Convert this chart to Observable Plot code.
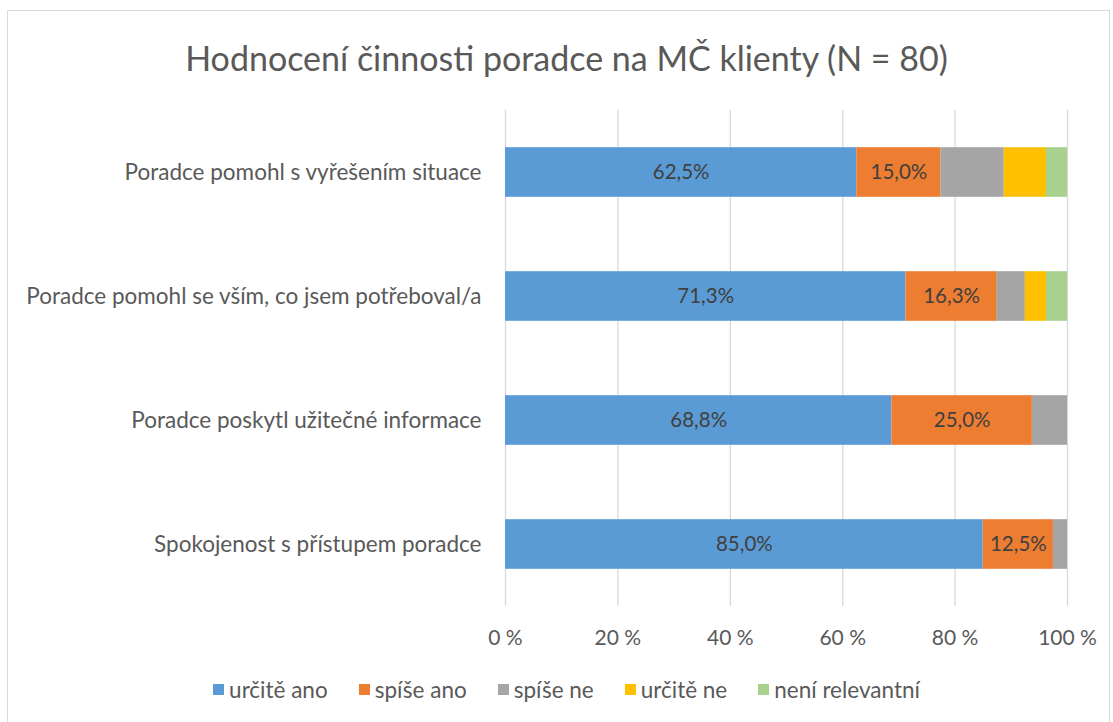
<!DOCTYPE html>
<html>
<head>
<meta charset="utf-8">
<script src="https://cdn.jsdelivr.net/npm/d3@7"></script>
<script src="https://cdn.jsdelivr.net/npm/@observablehq/plot@0.6"></script>
<style>
  html, body { margin: 0; padding: 0; background: #fff; }
  #wrap { position: relative; width: 1113px; height: 722px; overflow: hidden; font-family: Lato, "Open Sans", sans-serif; }
  #frame { position: absolute; left: 7px; top: 10px; width: 1103px; height: 730px; border: 1px solid #d9d9d9; box-sizing: border-box; }
  #title { position: absolute; left: 0; width: 1133px; top: 37px; text-align: center; font-size: 34px; color: #595959; }
  #chart { position: absolute; left: 0; top: 0; }
  #legend { position: absolute; left: 0; width: 1133px; top: 676px; display: flex; justify-content: center; gap: 31px; font-size: 22.5px; color: #595959; }
  #legend span.item { display: flex; align-items: center; }
  #legend span.sw { display: inline-block; width: 11px; height: 11px; margin-right: 5px; }
</style>
</head>
<body>
<div id="wrap">
  <div id="frame"></div>
  <div id="title">Hodnocení činnosti poradce na MČ klienty (N = 80)</div>
  <div id="chart"></div>
  <div id="legend"></div>
</div>
<script>
const categories = [
  "Poradce pomohl s vyřešením situace",
  "Poradce pomohl se vším, co jsem potřeboval/a",
  "Poradce poskytl užitečné informace",
  "Spokojenost s přístupem poradce"
];
const seriesNames = ["určitě ano", "spíše ano", "spíše ne", "určitě ne", "není relevantní"];
const seriesColors = ["#5B9BD5", "#ED7D31", "#A5A5A5", "#FFC000", "#A9D18E"];
const urciteAno = [62.5, 71.25, 68.75, 85.0];
const spiseAno = [15.0, 16.25, 25.0, 12.5];
const spiseNe = [11.25, 5.0, 6.25, 2.5];
const urciteNe = [7.5, 3.75, 0, 0];
const neniRelevantni = [3.75, 3.75, 0, 0];
const labeledSeries = ["určitě ano", "spíše ano"];
const xTicks = [0, 20, 40, 60, 80, 100];

const seriesValues = [urciteAno, spiseAno, spiseNe, urciteNe, neniRelevantni];
const data = [];
seriesNames.forEach((s, si) => {
  categories.forEach((c, ci) => {
    data.push({cat: c, series: s, value: seriesValues[si][ci]});
  });
});
const fmt = v => v.toFixed(1).replace(".", ",") + "%";

const chart = Plot.plot({
  width: 1113,
  height: 660,
  marginLeft: 505,
  marginRight: 46,
  marginTop: 110,
  marginBottom: 54,
  style: {fontFamily: "Lato, 'Open Sans', sans-serif", background: "transparent"},
  x: {domain: [0, 100], ticks: xTicks, label: null},
  y: {domain: categories, paddingInner: 0.6, paddingOuter: 0.3, round: false, label: null},
  color: {domain: seriesNames, range: seriesColors},
  marks: [
    Plot.ruleX(xTicks, {x: d => d, stroke: "#d9d9d9", strokeWidth: 1.3}),
    Plot.barX(data, Plot.stackX({x: "value", y: "cat", z: "series", fill: "series", order: seriesNames})),
    Plot.text(data, Plot.stackX({x: "value", y: "cat", z: "series", order: seriesNames,
      text: d => labeledSeries.includes(d.series) ? fmt(d.value) : "",
      fill: "#404040", fontSize: 20.5})),
    Plot.axisX({ticks: xTicks, tickFormat: d => d + " %", tickSize: 0, tickPadding: 24, fontSize: 21, color: "#595959", label: null}),
    Plot.axisY({tickSize: 0, tickPadding: 24, fontSize: 22.5, color: "#595959", label: null})
  ]
});
document.getElementById("chart").appendChild(chart);

const legend = document.getElementById("legend");
seriesNames.forEach((s, i) => {
  const item = document.createElement("span");
  item.className = "item";
  const sw = document.createElement("span");
  sw.className = "sw";
  sw.style.background = seriesColors[i];
  item.appendChild(sw);
  item.appendChild(document.createTextNode(s));
  legend.appendChild(item);
});
</script>
</body>
</html>
